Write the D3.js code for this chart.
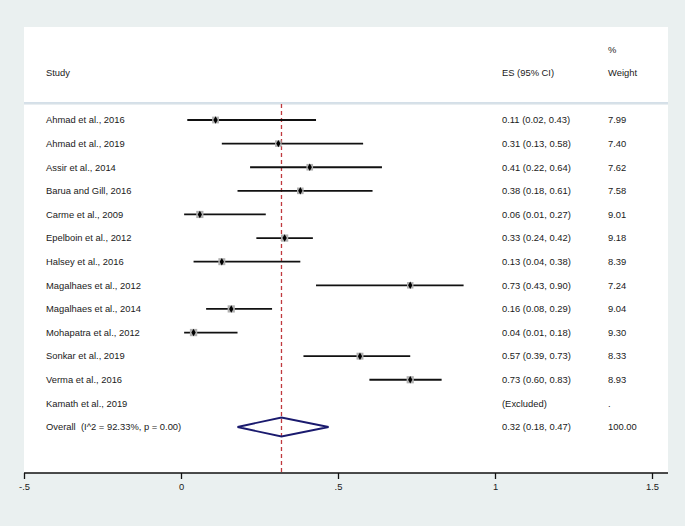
<!DOCTYPE html>
<html>
<head>
<meta charset="utf-8">
<script src="https://cdn.jsdelivr.net/npm/d3@7"></script>
<style>
  html, body { margin: 0; padding: 0; background: #eaf0f0; }
  svg { display: block; }
  text { font-family: "Liberation Sans", Arial, Helvetica, sans-serif; fill: #1a1a1a; white-space: pre; }
</style>
</head>
<body>
<svg id="chart" width="685" height="526"></svg>
<script>
const studies = ["Ahmad et al., 2016","Ahmad et al., 2019","Assir et al., 2014","Barua and Gill, 2016",
  "Carme et al., 2009","Epelboin et al., 2012","Halsey et al., 2016","Magalhaes et al., 2012",
  "Magalhaes et al., 2014","Mohapatra et al., 2012","Sonkar et al., 2019","Verma et al., 2016",
  "Kamath et al., 2019"];
const es     = [0.11, 0.31, 0.41, 0.38, 0.06, 0.33, 0.13, 0.73, 0.16, 0.04, 0.57, 0.73, null];
const lower  = [0.02, 0.13, 0.22, 0.18, 0.01, 0.24, 0.04, 0.43, 0.08, 0.01, 0.39, 0.60, null];
const upper  = [0.43, 0.58, 0.64, 0.61, 0.27, 0.42, 0.38, 0.90, 0.29, 0.18, 0.73, 0.83, null];
const weights = [7.99, 7.40, 7.62, 7.58, 9.01, 9.18, 8.39, 7.24, 9.04, 9.30, 8.33, 8.93, null];
const overallLabel = "Overall  (I^2 = 92.33%, p = 0.00)";
const overall = { es: 0.32, lo: 0.18, hi: 0.47, weight: 100.00 };
const xTicks = [-0.5, 0, 0.5, 1, 1.5];
const xTickLabels = ["-.5", "0", ".5", "1", "1.5"];

const svg = d3.select("#chart");

// white plot region
const panel = { left: 24, right: 668, top: 27, bottom: 473 };
svg.append("rect").attr("x", panel.left).attr("y", panel.top)
  .attr("width", panel.right - panel.left).attr("height", panel.bottom - panel.top)
  .attr("fill", "#ffffff");

const x = d3.scaleLinear().domain([-0.5, 1.5]).range([24, 652]);
const rows = studies.concat([overallLabel]);
const y = d3.scalePoint().domain(d3.range(rows.length)).range([120, 427]);

const fs = "9.4px";
const colStudy = 46, colES = 502, colW = 608;

function label(xp, yp, t) {
  return svg.append("text").attr("x", xp).attr("y", yp).attr("dy", "0.35em")
    .attr("xml:space", "preserve").style("font-size", fs).text(t);
}

// header
label(colW, 50, "%");
label(colStudy, 73, "Study");
label(colES, 73, "ES (95% CI)");
label(colW, 73, "Weight");

// header separator line
svg.append("line").attr("x1", panel.left).attr("x2", panel.right).attr("y1", 104).attr("y2", 104)
  .attr("stroke", "#e2e8ec").attr("stroke-width", 1.5);
svg.append("line").attr("x1", panel.left).attr("x2", panel.right).attr("y1", 102.8).attr("y2", 102.8)
  .attr("stroke", "#c6d4e0").attr("stroke-width", 1.2);

// overall dashed line
svg.append("line").attr("x1", x(overall.es)).attr("x2", x(overall.es))
  .attr("y1", 104).attr("y2", panel.bottom)
  .attr("stroke", "#c0393e").attr("stroke-width", 1.3).attr("stroke-dasharray", "4,3");

const fmt = d3.format(".2f");

// study rows
studies.forEach((s, i) => {
  const yy = y(i);
  label(colStudy, yy, s);
  if (es[i] === null) {
    label(colES, yy, "(Excluded)");
    label(colW, yy, ".");
    return;
  }
  label(colES, yy, `${fmt(es[i])} (${fmt(lower[i])}, ${fmt(upper[i])})`);
  label(colW, yy, fmt(weights[i]));
  // CI line
  svg.append("line").attr("x1", x(lower[i])).attr("x2", x(upper[i])).attr("y1", yy).attr("y2", yy)
    .attr("stroke", "#111").attr("stroke-width", 1.8);
  // weight box
  const side = 2.4 * Math.sqrt(weights[i]);
  svg.append("rect").attr("x", x(es[i]) - side / 2).attr("y", yy - side / 2)
    .attr("width", side).attr("height", side).attr("fill", "#b0b0b0");
  // point estimate
  svg.append("path").attr("d", d3.symbol(d3.symbolDiamond, 16)())
    .attr("transform", `translate(${x(es[i])},${yy})`).attr("fill", "#000");
});

// overall row
const yo = y(rows.length - 1);
label(colStudy, yo, overallLabel);
label(colES, yo, `${fmt(overall.es)} (${fmt(overall.lo)}, ${fmt(overall.hi)})`);
label(colW, yo, fmt(overall.weight));
const dh = 9.5;
svg.append("path")
  .attr("d", `M${x(overall.lo)},${yo} L${x(overall.es)},${yo - dh} L${x(overall.hi)},${yo} L${x(overall.es)},${yo + dh} Z`)
  .attr("fill", "none").attr("stroke", "#1a1a6e").attr("stroke-width", 1.8);

// x axis
const axis = d3.axisBottom(x).tickValues(xTicks).tickSize(6)
  .tickFormat((d, i) => xTickLabels[i]);
const gAx = svg.append("g").attr("transform", `translate(0,${panel.bottom})`).call(axis);
gAx.select(".domain").remove();
gAx.append("line").attr("x1", panel.left).attr("x2", panel.right).attr("y1", 0).attr("y2", 0)
  .attr("stroke", "#111").attr("stroke-width", 1.3);
gAx.selectAll(".tick line").attr("stroke", "#111").attr("stroke-width", 1.3);
gAx.selectAll(".tick text").attr("y", 10).style("font-size", "9.4px")
  .style("font-family", '"Liberation Sans", Arial, sans-serif').attr("fill", "#1a1a1a");
</script>
</body>
</html>
